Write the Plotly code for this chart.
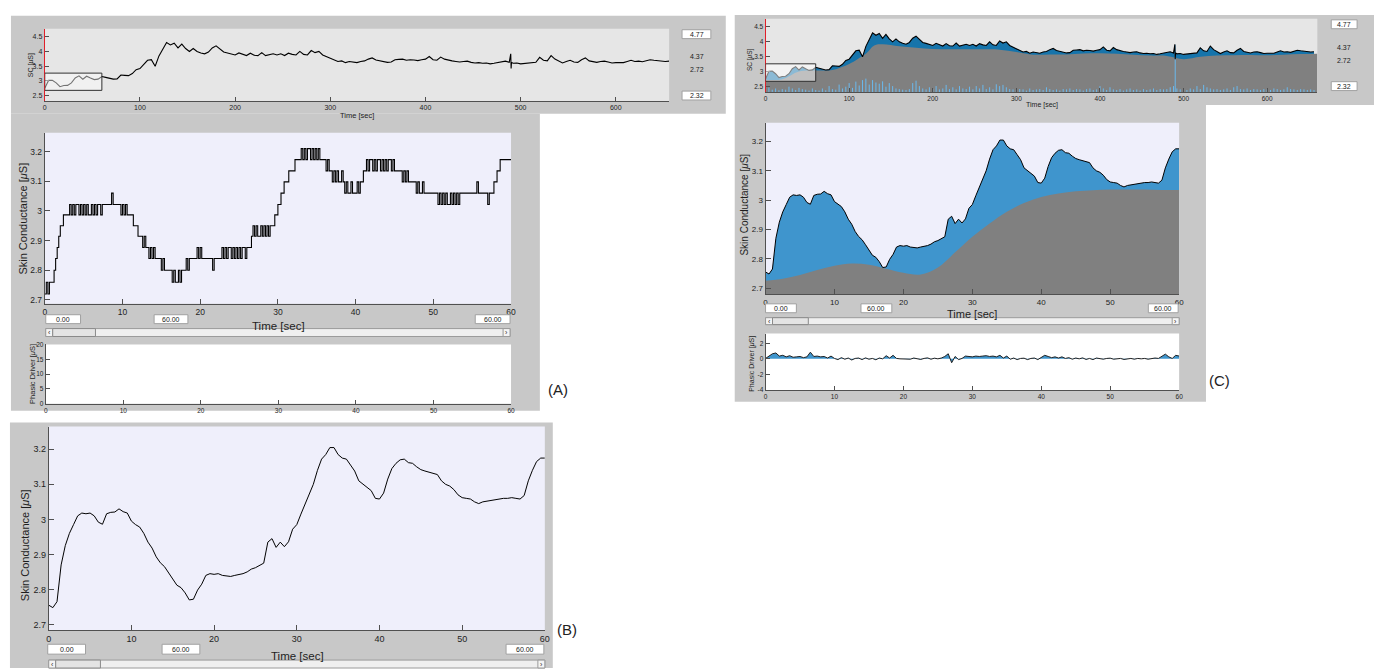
import numpy as np
import plotly.graph_objects as go

W, H = 1379, 671
FONT = "Liberation Sans, Arial, sans-serif"

# ---------------- data ----------------
# smoothed skin conductance, 0-60 s, one sample every 0.5 s  [uS]
sc_dt = 0.5
sc_smooth = [
    2.755, 2.748, 2.765, 2.870, 2.925, 2.960, 2.985, 3.010, 3.018, 3.016,
    3.018, 3.010, 2.992, 2.986, 3.016, 3.020, 3.021, 3.030, 3.022, 3.018,
    2.995, 2.985, 2.978, 2.960, 2.935, 2.918, 2.893, 2.876, 2.865, 2.848,
    2.830, 2.812, 2.805, 2.790, 2.770, 2.772, 2.798, 2.815, 2.840, 2.845,
    2.843, 2.845, 2.840, 2.838, 2.837, 2.840, 2.842, 2.845, 2.850, 2.858,
    2.862, 2.868, 2.875, 2.935, 2.945, 2.920, 2.935, 2.922, 2.936, 2.972,
    2.985, 3.015, 3.045, 3.075, 3.100, 3.140, 3.172, 3.185, 3.205, 3.205,
    3.185, 3.175, 3.172, 3.155, 3.138, 3.110, 3.100, 3.092, 3.082, 3.060,
    3.058, 3.075, 3.115, 3.145, 3.160, 3.170, 3.172, 3.162, 3.160, 3.150,
    3.142, 3.138, 3.134, 3.132, 3.128, 3.110, 3.100, 3.095, 3.085, 3.070,
    3.062, 3.060, 3.058, 3.050, 3.045, 3.050, 3.052, 3.055, 3.057, 3.058,
    3.060, 3.060, 3.062, 3.060, 3.058, 3.068, 3.110, 3.140, 3.165, 3.175,
    3.175,
]

# tonic component, one sample every 2.5 s  [uS]
tonic_dt = 2.5
tonic = [
    2.725, 2.732, 2.745, 2.762, 2.776, 2.784, 2.780, 2.766, 2.752, 2.746,
    2.770, 2.822, 2.875, 2.920, 2.960, 2.990, 3.011, 3.023, 3.030, 3.034,
    3.036, 3.036, 3.036, 3.035, 3.035,
]

# phasic driver, one sample every 0.5 s  [uS]
phasic_dt = 0.5
phasic = [
    0.05, 0.30, 0.65, 0.75, 0.35, 0.45, 0.25, 0.40, 0.20, 0.25,
    0.30, 0.15, 0.25, 0.85, 0.30, 0.35, 0.25, 0.30, 0.10, 0.35,
    0.05, -0.10, 0.15, -0.05, 0.10, -0.15, 0.05, 0.10, -0.10, 0.12,
    -0.05, 0.05, -0.12, 0.10, 0.00, 0.40, 0.10, 0.45, 0.05, 0.00,
    0.00, 0.02, -0.05, 0.10, 0.00, -0.08, 0.05, 0.12, -0.05, 0.08,
    0.00, 0.10, 0.30, 0.65, -0.50, 0.30, -0.10, 0.05, 0.35, 0.30,
    0.25, 0.35, 0.30, 0.35, 0.40, 0.30, 0.35, 0.25, 0.45, 0.10,
    0.35, -0.05, 0.10, -0.10, 0.05, 0.08, -0.10, 0.05, 0.10, -0.10,
    0.20, 0.45, 0.30, 0.15, 0.25, 0.10, 0.25, 0.05, 0.15, -0.05,
    0.10, 0.00, 0.12, -0.08, 0.05, -0.10, 0.10, 0.00, -0.05, 0.05,
    0.08, -0.05, 0.00, 0.05, -0.08, 0.00, 0.05, -0.05, 0.05, 0.00,
    0.05, -0.05, 0.00, 0.10, 0.05, 0.30, 0.60, 0.25, 0.05, 0.45,
    0.35,
]

# raw (quantised) recording, one sample every 0.2 s.
# each character is an index into raw_levels (hex digit)
raw_dt = 0.2
raw_levels = [2.720, 2.760, 2.800, 2.840, 2.877, 2.915, 2.950,
              2.987, 3.022, 3.060, 3.098, 3.135, 3.173, 3.210]
raw_codes = (
    "0101112345667777878788787"   # 0 - 4.8 s
    "8787787878878888889888887"   # 5 - 9.8 s
    "8787777666555454434343333"   # 10 - 14.8 s
    "2322222121121222323333343"   # 15 - 19.8 s
    "4333333323333343434434343"   # 20 - 24.8 s
    "4344344456565565656566677"   # 25 - 29.8 s
    "8899aaabbbbccccdcdcddcdcd"   # 30 - 34.8 s
    "cdccccbcbbababaaba9a99a99"   # 35 - 39.8 s
    "9a9aabbcbccbcbccbcbcbccbc"   # 40 - 44.8 s
    "bbbbbababaaaaa9a99a999999"   # 45 - 49.8 s
    "9998989898898989899999999"   # 50 - 54.8 s
    "999a9999998999aabbcccccccc"  # 55 - 60.0 s
)

# whole session, one sample every 4 s  [uS]
ov_dt = 4
ov_sc = [
    2.755, 3.018, 3.021, 2.935, 2.805, 2.843, 2.850, 2.935, 3.100, 3.172, 3.058, 3.160, 3.100, 3.045, 3.062,
    3.150, 3.120, 3.080, 3.060, 3.070, 3.200, 3.190, 3.180, 3.250, 3.380, 3.420, 3.550, 3.700, 3.720, 3.500,
    3.850, 4.100, 4.300, 4.220, 4.280, 4.120, 4.250, 4.100, 4.000, 4.100, 4.000, 3.950, 3.920, 3.980, 4.120,
    4.190, 4.080, 3.980, 3.950, 3.920, 3.880, 3.950, 3.900, 3.860, 3.940, 3.870, 3.860, 3.960, 3.860, 3.900,
    3.920, 3.880, 3.920, 3.860, 3.940, 3.900, 3.880, 4.000, 3.900, 3.880, 4.030, 3.960, 4.000, 3.880, 3.820,
    3.760, 3.720, 3.660, 3.680, 3.620, 3.660, 3.640, 3.620, 3.660, 3.680, 3.740, 3.780, 3.710, 3.680, 3.660,
    3.630, 3.640, 3.720, 3.730, 3.740, 3.700, 3.720, 3.710, 3.690, 3.720, 3.740, 3.830, 3.720, 3.700, 3.810,
    3.740, 3.700, 3.680, 3.660, 3.640, 3.660, 3.670, 3.630, 3.610, 3.620, 3.600, 3.610, 3.580, 3.600, 3.630,
    3.650, 3.670, 3.630, 3.600, 3.610, 3.580, 3.590, 3.610, 3.600, 3.630, 3.800, 3.700, 3.680, 3.860, 3.740,
    3.680, 3.610, 3.660, 3.700, 3.640, 3.630, 3.720, 3.780, 3.680, 3.650, 3.630, 3.660, 3.670, 3.640, 3.610,
    3.620, 3.630, 3.620, 3.660, 3.700, 3.660, 3.670, 3.650, 3.690, 3.720, 3.700, 3.680, 3.670, 3.660, 3.670,
]
# movement artefact near 490 s
ov_artifact_t = [489.6, 490.0, 490.4]
ov_artifact_sc = [3.92, 3.42, 3.63]

# session tonic level
ov_tonic_t = [0, 20, 40, 60, 80, 100, 110, 120, 130, 140, 160, 180, 200, 220, 240, 260, 280, 300,
              320, 340, 360, 380, 400, 420, 440, 460, 480, 500, 520, 540, 560, 580, 600, 620, 640, 660]
ov_tonic = [2.73, 2.75, 3.01, 3.04, 3.06, 3.26, 3.42, 3.60, 3.88, 3.92, 3.85, 3.80, 3.76, 3.75, 3.75, 3.75, 3.74, 3.66,
            3.57, 3.58, 3.58, 3.61, 3.62, 3.60, 3.57, 3.54, 3.53, 3.42, 3.50, 3.54, 3.55, 3.56, 3.55, 3.57, 3.59, 3.60]

# session phasic driver, drawn above the axis floor (one value every 4 s)
ov_driver = [
    0.25, 0.15, 0.08, 0.12, 0.06, 0.10, 0.08, 0.18, 0.12, 0.07, 0.14, 0.10, 0.08, 0.05, 0.12,
    0.07, 0.05, 0.12, 0.06, 0.20, 0.10, 0.08, 0.25, 0.12, 0.18, 0.30, 0.14, 0.35, 0.22, 0.40,
    0.45, 0.25, 0.40, 0.32, 0.28, 0.36, 0.18, 0.30, 0.20, 0.12, 0.10, 0.08, 0.07, 0.10, 0.30,
    0.38, 0.20, 0.12, 0.09, 0.16, 0.10, 0.20, 0.09, 0.12, 0.24, 0.10, 0.16, 0.09, 0.20, 0.12,
    0.10, 0.18, 0.09, 0.20, 0.12, 0.24, 0.10, 0.16, 0.09, 0.26, 0.20, 0.24, 0.16, 0.10, 0.09,
    0.07, 0.10, 0.09, 0.05, 0.12, 0.07, 0.09, 0.10, 0.07, 0.16, 0.10, 0.07, 0.09, 0.05, 0.10,
    0.09, 0.12, 0.07, 0.10, 0.09, 0.05, 0.10, 0.12, 0.07, 0.09, 0.20, 0.12, 0.07, 0.16, 0.09,
    0.07, 0.10, 0.05, 0.09, 0.12, 0.07, 0.09, 0.05, 0.10, 0.07, 0.09, 0.12, 0.07, 0.10, 0.09,
    0.10, 0.16, 0.20, 0.12, 0.09, 0.10, 0.07, 0.12, 0.09, 0.20, 0.10, 0.24, 0.16, 0.12, 0.09,
    0.10, 0.07, 0.09, 0.12, 0.07, 0.16, 0.20, 0.10, 0.09, 0.12, 0.07, 0.10, 0.09, 0.07, 0.10,
    0.09, 0.07, 0.12, 0.10, 0.07, 0.09, 0.16, 0.10, 0.09, 0.07, 0.10, 0.09, 0.07, 0.09, 0.07,
]
ov_driver_art_t = [490]
ov_driver_art = [1.58]

# viewer settings
view_window = [0, 60]
sc_ticks = [2.7, 2.8, 2.9, 3.0, 3.1, 3.2]
sc_ticktext = ["2.7", "2.8", "2.9", "3", "3.1", "3.2"]
ov_ticks = [2.5, 3.0, 3.5, 4.0, 4.5]
ov_ticktext = ["2.5", "3", "3.5", "4", "4.5"]
ov_range = [2.32, 4.77]
ov_labels = ["4.77", "4.37", "2.72", "2.32"]
time_ticks = [0, 10, 20, 30, 40, 50, 60]
ov_time_ticks = [0, 100, 200, 300, 400, 500, 600]

# ---------------- derived series ----------------
t_sc = np.arange(len(sc_smooth)) * sc_dt
t_tonic = np.arange(len(tonic)) * tonic_dt
t_ph = np.arange(len(phasic)) * phasic_dt
raw_vals = [raw_levels[int(c, 16)] for c in raw_codes]
t_raw = np.arange(len(raw_vals)) * raw_dt

t_ov = list(np.arange(len(ov_sc)) * ov_dt) + ov_artifact_t
v_ov = list(ov_sc) + ov_artifact_sc
order = np.argsort(t_ov)
t_ov = np.array(t_ov)[order]
v_ov = np.array(v_ov)[order]

# driver drawn as thin vertical strokes from the axis floor
drv_t = list(np.arange(len(ov_driver)) * ov_dt) + ov_driver_art_t
drv_h = list(ov_driver) + ov_driver_art
drv_x, drv_y = [], []
for t, h in zip(drv_t, drv_h):
    drv_x += [t, t, None]
    drv_y += [ov_range[0], ov_range[0] + h, None]

# ---------------- styling ----------------
GRAY_BG = "#c8c8c8"
LAVENDER = "#efeffb"
OV_BG = "#e6e6e6"
BLUE_DARK = "#1674ab"
BLUE_MAIN = "#3f95cd"
TONIC_GRAY = "#808080"
DRIVER_BLUE = "#6ab8ec"
AXC = "#505050"


def px(x):
    return x / W


def py(y):
    return 1 - y / H


# panel name -> (axis number, left, right, top, bottom) in pixels
panels = {
    "ovA": (1, 42, 670, 25, 98),
    "mainA": (2, 42, 511, 130, 303),
    "phA": (3, 43, 511, 344, 404),
    "B": (4, 46, 545, 427, 633),
    "ovC": (5, 767, 1322, 15, 89),
    "mainC": (6, 767, 1183, 120, 293),
    "phC": (7, 767, 1183, 333, 390),
}


def sfx(n):
    return "" if n == 1 else str(n)


fig = go.Figure()
shapes = []
annotations = []


def rect(x0, y0, x1, y1, fill, line=None, lw=1, layer="below"):
    shapes.append(dict(type="rect", xref="paper", yref="paper",
                       x0=px(x0), x1=px(x1), y0=py(y1), y1=py(y0),
                       fillcolor=fill, layer=layer,
                       line=dict(color=line or fill, width=lw if line else 0)))


def text(x, y, s, size, angle=0, color="#1e1e1e", xanchor="center"):
    annotations.append(dict(x=px(x), y=py(y), xref="paper", yref="paper", text=s,
                            showarrow=False, textangle=angle, xanchor=xanchor,
                            yanchor="middle", font=dict(size=size, color=color, family=FONT)))


def setup_axes(name, xr, yr, xt, xtt, yt, ytt, fsize, tlen, ylc=AXC):
    n, x0, x1, y0, y1 = panels[name]
    s = sfx(n)
    common = dict(ticks="inside", ticklen=tlen, tickcolor=AXC, tickwidth=1,
                  showgrid=False, zeroline=False, showline=True, linewidth=1,
                  tickfont=dict(size=fsize, color="#1e1e1e", family=FONT),
                  fixedrange=True)
    fig.layout["xaxis" + s] = dict(domain=[px(x0), px(x1)], range=xr, anchor="y" + s,
                                   tickvals=xt, ticktext=xtt, linecolor=AXC, **common)
    fig.layout["yaxis" + s] = dict(domain=[py(y1), py(y0)], range=yr, anchor="x" + s,
                                   tickvals=yt, ticktext=ytt, linecolor=ylc, **common)


def xy(name):
    s = sfx(panels[name][0])
    return dict(xaxis="x" + s, yaxis="y" + s)


# ---- grey figure windows ----
rect(8, 12, 727, 111, GRAY_BG)
rect(8, 111, 540, 411, GRAY_BG)
rect(7, 423, 553, 671, GRAY_BG)
rect(736, 11, 1379, 102, GRAY_BG)
rect(736, 102, 1210, 402, GRAY_BG)

# ---- axes backgrounds ----
bg = {"ovA": OV_BG, "mainA": LAVENDER, "phA": "white", "B": LAVENDER,
      "ovC": OV_BG, "mainC": LAVENDER, "phC": "white"}
for k, col in bg.items():
    n, x0, x1, y0, y1 = panels[k]
    rect(x0, y0, x1, y1, col)

# ---- axes ----
tt = [str(v) for v in time_ticks]
ovtt = [str(v) for v in ov_time_ticks]
setup_axes("ovA", [0, 656], ov_range, ov_time_ticks, ovtt, ov_ticks, ov_ticktext, 7, 4, ylc="#e0202a")
setup_axes("mainA", [0, 60], [2.687, 3.264], time_ticks, tt, sc_ticks, sc_ticktext, 8.5, 5)
setup_axes("phA", [0, 60], [0, 20], time_ticks, tt, [0, 5, 10, 15, 20], ["0", "5", "10", "15", "20"], 6.5, 4)
setup_axes("B", [0, 60], [2.683, 3.265], time_ticks, tt, sc_ticks, sc_ticktext, 9, 5)
setup_axes("ovC", [0, 660], ov_range, ov_time_ticks, ovtt, ov_ticks, ov_ticktext, 6.5, 4, ylc="#e0202a")
setup_axes("mainC", [0, 60], [2.68, 3.264], time_ticks, tt, sc_ticks, sc_ticktext, 8, 5)
setup_axes("phC", [0, 60], [-4, 3.25], time_ticks, tt, [-4, -2, 0, 2], ["-4", "-2", "0", "2"], 6.5, 4)

# ---- (A) overview ----
fig.add_trace(go.Scatter(x=t_ov, y=v_ov, mode="lines", line=dict(color="black", width=1.1),
                         hoverinfo="skip", **xy("ovA")))
# ---- (A) raw quantised signal ----
fig.add_trace(go.Scatter(x=t_raw, y=raw_vals, mode="lines", line=dict(color="black", width=1.1, shape="hv"),
                         hoverinfo="skip", **xy("mainA")))
# ---- (A) phasic driver: not computed yet, axes only ----
fig.add_trace(go.Scatter(x=[], y=[], mode="lines", hoverinfo="skip", **xy("phA")))
# ---- (B) smoothed signal ----
fig.add_trace(go.Scatter(x=t_sc, y=sc_smooth, mode="lines", line=dict(color="black", width=1),
                         hoverinfo="skip", **xy("B")))

# ---- (C) overview: phasic area, tonic area, driver, signal ----
fig.add_trace(go.Scatter(x=t_ov, y=v_ov, mode="lines", fill="tozeroy", fillcolor=BLUE_DARK,
                         line=dict(width=0, color=BLUE_DARK), hoverinfo="skip", **xy("ovC")))
fig.add_trace(go.Scatter(x=ov_tonic_t, y=ov_tonic, mode="lines", fill="tozeroy", fillcolor=TONIC_GRAY,
                         line=dict(width=0, color=TONIC_GRAY, shape="spline"), hoverinfo="skip", **xy("ovC")))
fig.add_trace(go.Scatter(x=drv_x, y=drv_y, mode="lines", line=dict(color=DRIVER_BLUE, width=1),
                         hoverinfo="skip", **xy("ovC")))
fig.add_trace(go.Scatter(x=t_ov, y=v_ov, mode="lines", line=dict(color="black", width=1.1),
                         hoverinfo="skip", **xy("ovC")))

# ---- (C) decomposition of the 60 s window ----
fig.add_trace(go.Scatter(x=t_sc, y=sc_smooth, mode="lines", fill="tozeroy", fillcolor=BLUE_MAIN,
                         line=dict(width=0, color=BLUE_MAIN), hoverinfo="skip", **xy("mainC")))
fig.add_trace(go.Scatter(x=t_tonic, y=tonic, mode="lines", fill="tozeroy", fillcolor=TONIC_GRAY,
                         line=dict(width=0, color=TONIC_GRAY, shape="spline"), hoverinfo="skip", **xy("mainC")))
fig.add_trace(go.Scatter(x=t_sc, y=sc_smooth, mode="lines", line=dict(color="black", width=1),
                         hoverinfo="skip", **xy("mainC")))
fig.add_trace(go.Scatter(x=t_ph, y=phasic, mode="lines", fill="tozeroy", fillcolor=BLUE_MAIN,
                         line=dict(color="#202020", width=1), hoverinfo="skip", **xy("phC")))

# ---- selected window markers in the overviews ----
win_y = [2.68, 3.265]
for name, fill in (("ovA", "rgba(255,255,255,0.45)"), ("ovC", "rgba(255,255,255,0.5)")):
    s = sfx(panels[name][0])
    shapes.append(dict(type="rect", xref="x" + s, yref="y" + s,
                       x0=view_window[0], x1=view_window[1], y0=win_y[0], y1=win_y[1],
                       fillcolor=fill, line=dict(color="#303030", width=1), layer="above"))


# ---- edit boxes, scroll bars, labels ----
def edit_box(x0, x1, y0, y1, s):
    rect(x0, y0, x1, y1, "white", "#a0a0a0", 1, layer="above")
    text((x0 + x1) / 2, (y0 + y1) / 2 + 0.5, s, 7, color="#202020")


def scrollbar(x0, x1, y0, y1, thumb):
    rect(x0, y0, x1, y1, "#efefef", "#9a9a9a", 1, layer="above")
    rect(x0, y0, x0 + 7, y1, "#f4f4f4", "#9a9a9a", 1, layer="above")
    rect(x0 + 7, y0, thumb, y1, "#e4e4e4", "#8a8a8a", 1, layer="above")
    rect(x1 - 7, y0, x1, y1, "#f4f4f4", "#9a9a9a", 1, layer="above")
    text(x0 + 3.5, (y0 + y1) / 2, "‹", 7)
    text(x1 - 3.5, (y0 + y1) / 2, "›", 7)


# (A)
edit_box(43, 78, 314, 323, "0.00")
edit_box(152, 186, 314, 323, "60.00")
edit_box(475, 510, 314, 323, "60.00")
scrollbar(43, 510, 328, 336, 93)
text(277, 325, "Time [sec]", 11.5)
text(20, 217, "Skin Conductance [<i>μ</i>S]", 11, angle=-90)
text(29, 374, "Phasic Driver [<i>μ</i>S]", 7.5, angle=-90)
text(356, 113, "Time [sec]", 7.5)
text(29, 62, "SC [<i>μ</i>S]", 7, angle=-90)
text(558, 390, "(A)", 15, color="#222")

# (B)
edit_box(45, 83, 647, 657, "0.00")
edit_box(160, 198, 647, 657, "60.00")
edit_box(506, 544, 647, 657, "60.00")
scrollbar(46, 545, 663, 671, 98)
text(296, 659, "Time [sec]", 11.5)
text(22, 547, "Skin Conductance [<i>μ</i>S]", 11, angle=-90)
text(567, 632, "(B)", 15, color="#222")

# (C)
edit_box(767, 798, 303, 312, "0.00")
edit_box(863, 894, 303, 312, "60.00")
edit_box(1152, 1182, 303, 312, "60.00")
scrollbar(767, 1183, 317, 324, 810)
text(975, 313, "Time [sec]", 11)
text(746, 203, "Skin Conductance [<i>μ</i>S]", 10, angle=-90)
text(754, 364, "Phasic Driver [<i>μ</i>S]", 7, angle=-90)
text(1045, 102, "Time [sec]", 7)
text(752, 56, "SC [<i>μ</i>S]", 6.5, angle=-90)
text(1224, 380, "(C)", 15, color="#222")

# overview level read-outs
for (bx0, bx1, tx), ys in (((683, 712, 698), (30.5, 53, 66, 92.5)),
                           ((1336, 1362, 1349), (20.5, 44, 57, 83))):
    rect(bx0, ys[0] - 4.5, bx1, ys[0] + 4.5, "white", "#a0a0a0", 1, layer="above")
    rect(bx0, ys[3] - 4.5, bx1, ys[3] + 4.5, "white", "#a0a0a0", 1, layer="above")
    for lab, yy in zip(ov_labels, ys):
        text(tx, yy, lab, 7, color="#202020")

fig.update_layout(
    width=W, height=H,
    margin=dict(l=0, r=0, t=0, b=0),
    paper_bgcolor="white", plot_bgcolor="rgba(0,0,0,0)",
    showlegend=False,
    shapes=shapes, annotations=annotations,
    font=dict(family=FONT),
)

fig.write_html("out.html")
